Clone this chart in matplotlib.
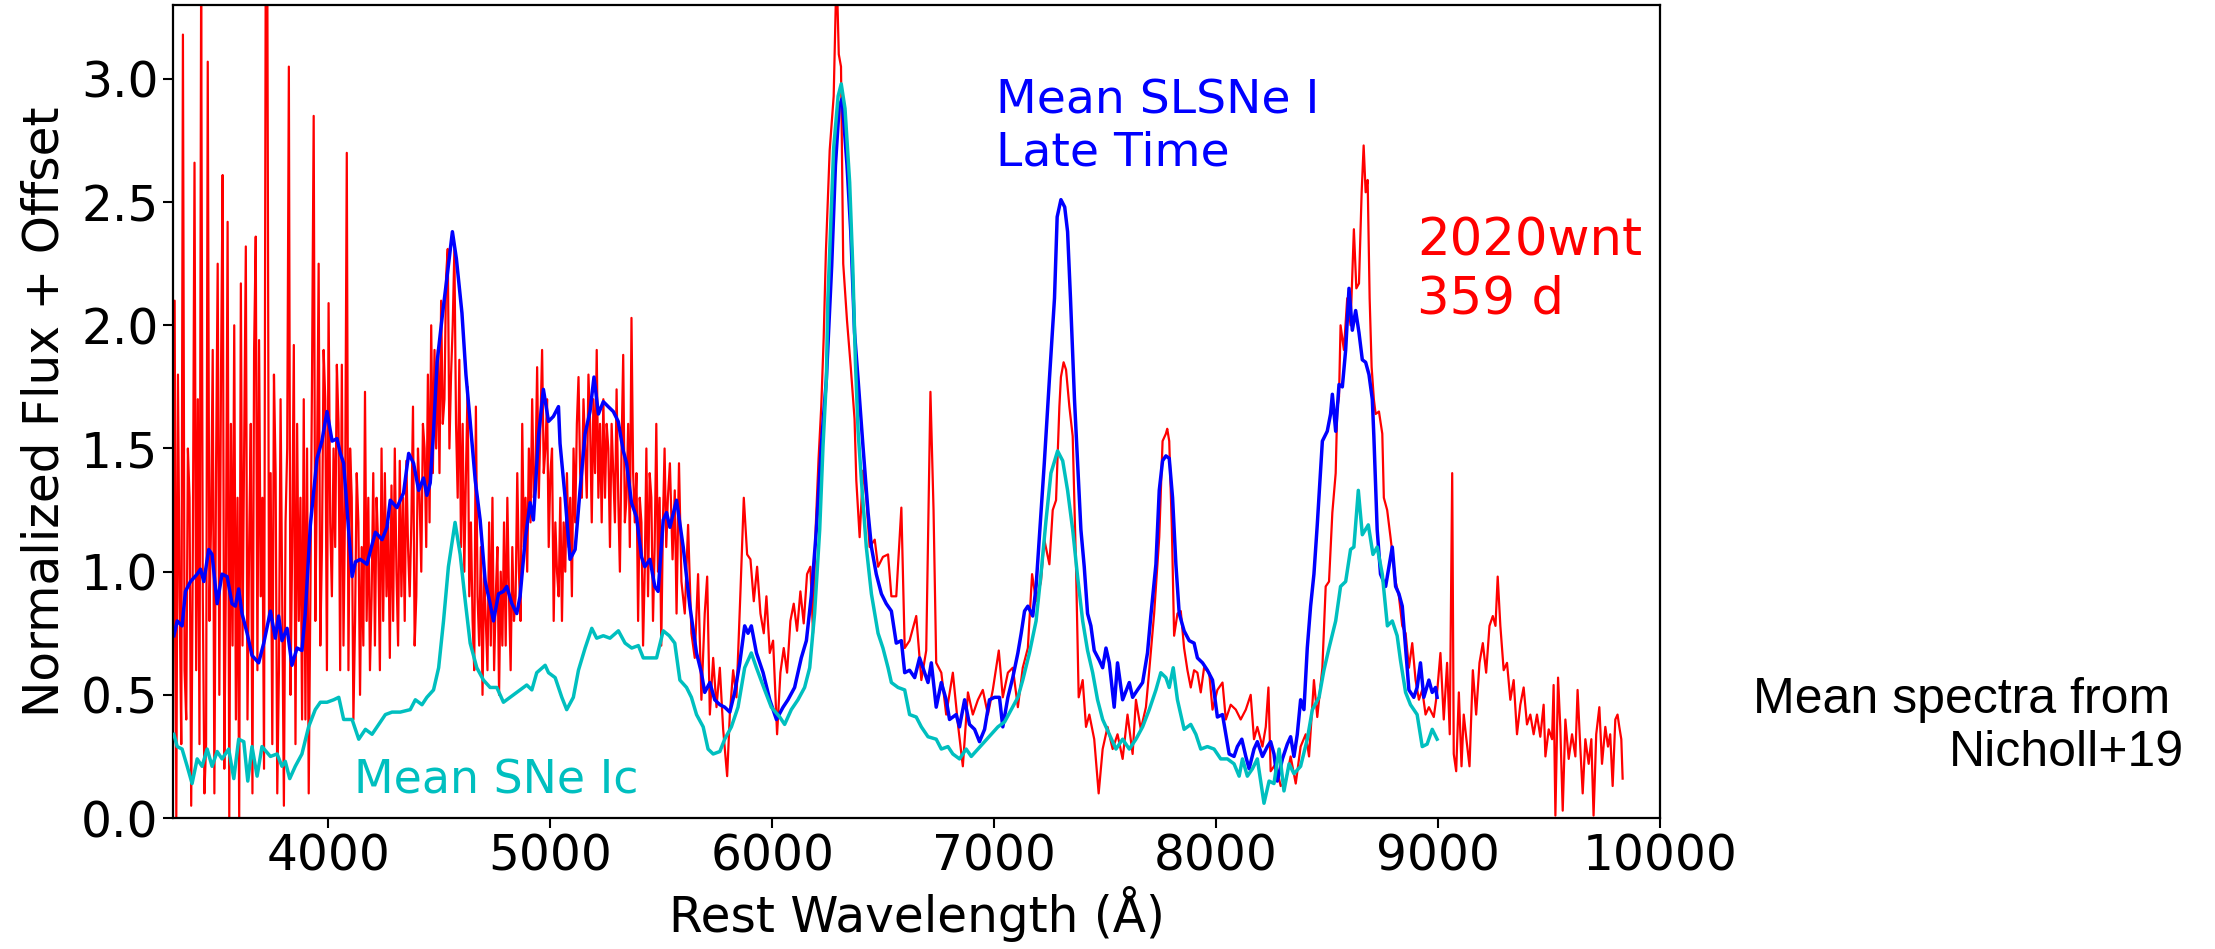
import numpy as np
import matplotlib
matplotlib.use("Agg")
import matplotlib.pyplot as plt

# Mean SNe Ic (Nicholl+19)
ic_wave = [3304, 3319, 3341, 3364, 3386, 3409, 3431, 3454, 3476, 3499, 3521, 3551, 3574, 3596,
           3619, 3637, 3656, 3679, 3701, 3739, 3769, 3791, 3806, 3826, 3851, 3881, 3911, 3941,
           3964, 3994, 4024, 4047, 4069, 4107, 4137, 4167, 4197, 4227, 4257, 4287, 4324, 4369,
           4392, 4422, 4444, 4474, 4497, 4519, 4541, 4571, 4594, 4617, 4639, 4669, 4699, 4729,
           4759, 4789, 4819, 4849, 4894, 4917, 4939, 4977, 4992, 5022, 5052, 5074, 5104, 5127,
           5157, 5187, 5209, 5239, 5269, 5307, 5337, 5367, 5397, 5419, 5449, 5479, 5509, 5536,
           5561, 5584, 5614, 5636, 5659, 5689, 5711, 5734, 5764, 5786, 5816, 5846, 5876, 5906,
           5929, 5966, 5996, 6034, 6056, 6086, 6116, 6146, 6169, 6191, 6214, 6229, 6244, 6251,
           6277, 6297, 6311, 6328, 6349, 6363, 6375, 6387, 6402, 6424, 6447, 6477, 6499, 6522,
           6537, 6567, 6597, 6619, 6649, 6672, 6702, 6739, 6762, 6792, 6814, 6844, 6874, 6897,
           6927, 6957, 6987, 7017, 7047, 7077, 7107, 7129, 7159, 7189, 7211, 7234, 7256, 7286,
           7309, 7331, 7354, 7376, 7399, 7421, 7444, 7466, 7489, 7519, 7549, 7579, 7609, 7639,
           7669, 7699, 7729, 7751, 7774, 7789, 7807, 7826, 7856, 7886, 7909, 7931, 7961, 7991,
           8021, 8051, 8081, 8104, 8119, 8141, 8164, 8186, 8216, 8239, 8261, 8284, 8306, 8329,
           8351, 8381, 8411, 8434, 8464, 8486, 8509, 8539, 8561, 8584, 8606, 8621, 8641, 8659,
           8686, 8707, 8726, 8749, 8772, 8794, 8816, 8831, 8854, 8876, 8906, 8929, 8951, 8974,
           8996]
ic_flux = [0.34, 0.29, 0.28, 0.21, 0.14, 0.24, 0.21, 0.28, 0.21, 0.27, 0.24, 0.28, 0.16, 0.32,
           0.31, 0.15, 0.29, 0.17, 0.29, 0.25, 0.26, 0.21, 0.23, 0.16, 0.21, 0.26, 0.37, 0.44,
           0.47, 0.47, 0.48, 0.49, 0.40, 0.40, 0.32, 0.36, 0.34, 0.38, 0.42, 0.43, 0.43, 0.44,
           0.48, 0.46, 0.49, 0.52, 0.61, 0.80, 1.02, 1.20, 1.07, 0.88, 0.71, 0.61, 0.56, 0.53,
           0.53, 0.47, 0.49, 0.51, 0.54, 0.52, 0.59, 0.62, 0.59, 0.57, 0.49, 0.44, 0.49, 0.60,
           0.69, 0.77, 0.73, 0.74, 0.73, 0.76, 0.71, 0.69, 0.70, 0.65, 0.65, 0.65, 0.76, 0.74,
           0.71, 0.56, 0.53, 0.49, 0.42, 0.37, 0.28, 0.26, 0.27, 0.32, 0.37, 0.45, 0.61, 0.67,
           0.61, 0.52, 0.45, 0.41, 0.38, 0.44, 0.48, 0.53, 0.61, 0.83, 1.17, 1.51, 1.78, 2.11,
           2.72, 2.93, 2.98, 2.88, 2.58, 2.24, 1.85, 1.57, 1.37, 1.10, 0.91, 0.75, 0.69, 0.61,
           0.55, 0.53, 0.52, 0.42, 0.41, 0.37, 0.33, 0.32, 0.28, 0.29, 0.26, 0.24, 0.28, 0.25,
           0.28, 0.31, 0.34, 0.37, 0.39, 0.44, 0.49, 0.56, 0.67, 0.80, 0.99, 1.21, 1.40, 1.49,
           1.45, 1.33, 1.17, 0.98, 0.80, 0.68, 0.59, 0.48, 0.40, 0.34, 0.28, 0.32, 0.28, 0.32,
           0.37, 0.44, 0.52, 0.59, 0.57, 0.53, 0.61, 0.48, 0.36, 0.38, 0.34, 0.28, 0.29, 0.28,
           0.24, 0.24, 0.22, 0.17, 0.24, 0.17, 0.20, 0.24, 0.06, 0.15, 0.14, 0.28, 0.11, 0.22,
           0.18, 0.21, 0.32, 0.44, 0.49, 0.60, 0.69, 0.80, 0.94, 0.96, 1.09, 1.10, 1.33, 1.15,
           1.19, 1.07, 1.10, 0.99, 0.78, 0.80, 0.74, 0.64, 0.51, 0.46, 0.42, 0.29, 0.30, 0.36,
           0.32]

# Mean SLSNe I, late time (Nicholl+19)
slsn_wave = [3304, 3319, 3341, 3356, 3379, 3409, 3424, 3439, 3461, 3476, 3499, 3521, 3544, 3566,
             3581, 3596, 3611, 3634, 3656, 3686, 3709, 3739, 3761, 3776, 3791, 3814, 3836, 3859,
             3881, 3896, 3919, 3949, 3971, 3994, 4017, 4039, 4054, 4069, 4084, 4107, 4122, 4144,
             4174, 4197, 4212, 4242, 4264, 4279, 4309, 4339, 4362, 4384, 4407, 4429, 4444, 4459,
             4474, 4490, 4515, 4534, 4559, 4577, 4602, 4620, 4639, 4662, 4684, 4707, 4729, 4744,
             4767, 4789, 4804, 4827, 4849, 4864, 4887, 4909, 4924, 4947, 4969, 4992, 5014, 5037,
             5044, 5067, 5089, 5112, 5134, 5157, 5179, 5197, 5217, 5239, 5261, 5284, 5306, 5329,
             5344, 5366, 5389, 5411, 5426, 5449, 5471, 5486, 5509, 5524, 5539, 5569, 5599, 5629,
             5659, 5681, 5696, 5719, 5741, 5764, 5786, 5809, 5831, 5854, 5876, 5891, 5906, 5929,
             5959, 5989, 6019, 6049, 6071, 6101, 6131, 6154, 6176, 6199, 6221, 6244, 6268, 6285,
             6302, 6315, 6337, 6354, 6371, 6387, 6409, 6432, 6447, 6469, 6492, 6514, 6537, 6559,
             6582, 6597, 6619, 6642, 6664, 6687, 6702, 6717, 6739, 6762, 6784, 6799, 6829, 6844,
             6867, 6889, 6912, 6934, 6957, 6979, 7002, 7024, 7039, 7062, 7084, 7107, 7122, 7137,
             7152, 7174, 7189, 7211, 7226, 7249, 7272, 7284, 7301, 7318, 7331, 7344, 7362, 7376,
             7391, 7406, 7421, 7436, 7451, 7474, 7489, 7504, 7519, 7541, 7556, 7579, 7609, 7624,
             7646, 7669, 7691, 7706, 7729, 7744, 7759, 7774, 7789, 7804, 7819, 7834, 7856, 7879,
             7901, 7916, 7939, 7961, 7984, 8006, 8029, 8044, 8059, 8081, 8096, 8116, 8134, 8149,
             8171, 8186, 8209, 8231, 8246, 8261, 8276, 8299, 8321, 8336, 8351, 8366, 8381, 8396,
             8411, 8426, 8441, 8456, 8479, 8501, 8516, 8524, 8539, 8554, 8569, 8584, 8599, 8614,
             8629, 8644, 8659, 8674, 8689, 8704, 8711, 8726, 8741, 8764, 8779, 8794, 8809, 8824,
             8839, 8854, 8869, 8891, 8906, 8921, 8936, 8959, 8974, 8989, 8996]
slsn_flux = [0.74, 0.80, 0.78, 0.92, 0.96, 0.99, 1.01, 0.96, 1.09, 1.07, 0.87, 0.99, 0.98, 0.87,
             0.86, 0.93, 0.83, 0.75, 0.66, 0.63, 0.71, 0.84, 0.73, 0.82, 0.72, 0.77, 0.62, 0.69,
             0.68, 0.83, 1.19, 1.46, 1.53, 1.65, 1.53, 1.54, 1.48, 1.44, 1.26, 0.98, 1.04, 1.05,
             1.03, 1.11, 1.16, 1.13, 1.18, 1.29, 1.26, 1.32, 1.48, 1.44, 1.33, 1.38, 1.31, 1.36,
             1.57, 1.85, 2.05, 2.19, 2.38, 2.27, 2.05, 1.80, 1.61, 1.37, 1.21, 0.96, 0.87, 0.80,
             0.91, 0.92, 0.94, 0.87, 0.83, 0.90, 1.13, 1.28, 1.21, 1.55, 1.74, 1.61, 1.63, 1.67,
             1.52, 1.30, 1.05, 1.09, 1.33, 1.56, 1.65, 1.79, 1.64, 1.69, 1.67, 1.65, 1.61, 1.49,
             1.44, 1.28, 1.22, 1.06, 1.02, 1.05, 0.94, 0.92, 1.21, 1.24, 1.18, 1.29, 1.10, 0.86,
             0.67, 0.59, 0.51, 0.55, 0.48, 0.46, 0.45, 0.43, 0.51, 0.63, 0.78, 0.75, 0.78, 0.67,
             0.59, 0.48, 0.40, 0.45, 0.48, 0.53, 0.65, 0.72, 0.90, 1.17, 1.51, 1.78, 2.24, 2.65,
             2.89, 2.92, 2.65, 2.38, 1.97, 1.78, 1.51, 1.24, 1.10, 0.99, 0.91, 0.87, 0.84, 0.71,
             0.72, 0.59, 0.60, 0.57, 0.65, 0.59, 0.55, 0.63, 0.45, 0.55, 0.48, 0.40, 0.42, 0.37,
             0.48, 0.38, 0.36, 0.31, 0.36, 0.48, 0.49, 0.49, 0.37, 0.49, 0.57, 0.67, 0.75, 0.84,
             0.86, 0.82, 0.94, 1.24, 1.44, 1.78, 2.11, 2.44, 2.51, 2.48, 2.38, 2.11, 1.70, 1.44,
             1.17, 1.02, 0.83, 0.78, 0.68, 0.64, 0.61, 0.69, 0.63, 0.45, 0.63, 0.48, 0.55, 0.49,
             0.52, 0.55, 0.67, 0.82, 1.03, 1.33, 1.45, 1.47, 1.46, 1.30, 1.03, 0.83, 0.76, 0.72,
             0.71, 0.65, 0.63, 0.60, 0.56, 0.41, 0.42, 0.34, 0.26, 0.25, 0.29, 0.32, 0.25, 0.20,
             0.28, 0.31, 0.25, 0.29, 0.31, 0.26, 0.15, 0.24, 0.30, 0.33, 0.25, 0.34, 0.48, 0.44,
             0.69, 0.86, 0.99, 1.19, 1.53, 1.57, 1.64, 1.72, 1.57, 1.76, 1.75, 1.90, 2.15, 1.98,
             2.06, 1.97, 1.86, 1.85, 1.80, 1.70, 1.55, 1.17, 0.99, 0.94, 1.02, 1.10, 0.94, 0.91,
             0.86, 0.69, 0.52, 0.49, 0.53, 0.63, 0.49, 0.56, 0.51, 0.53, 0.49]

# 2020wnt at 359 d: noisy blue end (3300-5530 A, evenly sampled, 20 values per 150 A)
wnt_blue_start, wnt_blue_end = 3300, 5530
wnt_blue_flux = [
    0.2, 2.1, 0.0, 1.8, 0.9, 0.3, 3.18, 0.6, 0.4, 1.5, 1.3, 0.05, 1.1, 2.66, 0.6, 1.7, 0.3, 3.4, 0.9, 0.1,
    0.3, 3.07, 0.8, 1.2, 1.9, 0.1, 1.4, 2.25, 0.5, 1.8, 2.61, 0.2, 1.0, 2.42, 0.0, 1.6, 0.7, 2.0, 0.4, 1.3,
    0.0, 2.17, 0.7, 1.5, 2.32, 0.4, 1.1, 1.6, 0.1, 1.9, 2.36, 0.6, 1.94, 0.9, 1.3, 0.2, 3.4, 3.4, 0.8, 1.4,
    0.3, 1.8, 1.4, 0.1, 0.6, 1.7, 0.9, 0.05, 1.2, 1.5, 3.05, 0.5, 1.1, 1.92, 0.3, 1.6, 0.8, 1.3, 0.4, 1.7,
    0.4, 1.5, 0.1, 0.9, 1.8, 2.85, 0.8, 1.4, 2.25, 0.7, 1.1, 1.9, 1.7, 0.6, 2.09, 1.2, 0.9, 1.5, 1.1, 1.84,
    1.6, 0.6, 1.84, 0.7, 1.3, 2.70, 0.6, 1.5, 1.3, 0.4, 0.8, 1.4, 1.2, 0.5, 1.1, 0.7, 1.73, 0.8, 1.3, 0.6,
    0.9, 1.4, 0.7, 1.3, 1.1, 0.6, 1.5, 0.8, 1.4, 0.9, 1.2, 0.65, 1.35, 0.8, 1.5, 1.0, 0.7, 1.45, 0.9, 1.3,
    0.8, 1.45, 1.1, 0.9, 1.2, 1.67, 0.7, 0.9, 1.5, 1.3, 1.0, 1.6, 1.5, 1.1, 1.8, 1.2, 2.0, 1.4, 1.9, 1.5,
    1.9, 1.4, 2.1, 1.6, 1.7, 2.2, 2.31, 1.5, 1.8, 2.0, 2.31, 1.6, 1.3, 1.86, 1.1, 1.6, 1.0, 1.4, 1.75, 0.9,
    1.2, 0.8, 0.6, 1.67, 0.9, 0.7, 1.1, 0.5, 1.0, 0.8, 0.6, 1.2, 0.7, 1.3, 0.6, 0.9, 1.1, 0.5, 1.0, 0.7,
    1.2, 0.7, 1.3, 0.9, 0.6, 1.1, 0.8, 0.9, 1.4, 1.0, 0.8, 1.6, 1.1, 1.3, 1.0, 1.5, 1.2, 1.7, 1.3, 1.4,
    1.83, 1.3, 1.6, 1.90, 1.4, 1.5, 1.7, 1.1, 1.4, 1.5, 0.8, 1.2, 1.0, 0.9, 1.3, 0.8, 1.2, 1.0, 1.4, 1.1,
    1.3, 0.9, 1.5, 1.2, 1.6, 1.79, 1.4, 1.3, 1.7, 1.5, 1.3, 1.8, 1.6, 1.2, 1.7, 1.4, 1.9, 1.3, 1.6, 1.2,
    1.7, 1.3, 1.6, 1.5, 1.1, 1.6, 1.4, 1.2, 1.74, 1.3, 1.0, 1.5, 1.88, 1.2, 1.3, 1.6, 1.1, 2.03, 1.4, 1.2,
    1.4, 0.8, 1.3, 1.2, 0.7, 1.0, 1.5, 0.9, 1.4, 1.3, 0.8, 1.1, 1.6, 1.0, 1.3, 0.7, 1.2, 1.5, 1.1, 1.3,
]

# 2020wnt red end, read point by point
wnt_red_wave = [5539, 5551, 5561, 5569, 5580, 5591, 5606, 5621, 5636, 5651, 5666, 5681, 5696, 5707,
                5719, 5734, 5749, 5764, 5779, 5797, 5809, 5824, 5839, 5857, 5872, 5887, 5902, 5917,
                5932, 5947, 5962, 5974, 5989, 6004, 6022, 6037, 6052, 6067, 6082, 6097, 6112, 6127,
                6142, 6157, 6172, 6184, 6196, 6209, 6221, 6232, 6242, 6259, 6277, 6290, 6300, 6310,
                6320, 6337, 6354, 6371, 6379, 6394, 6409, 6424, 6439, 6462, 6477, 6499, 6522, 6537,
                6559, 6582, 6597, 6619, 6649, 6672, 6694, 6713, 6727, 6739, 6762, 6784, 6814, 6837,
                6859, 6882, 6904, 6927, 6949, 6972, 6994, 7021, 7039, 7062, 7084, 7107, 7129, 7152,
                7171, 7189, 7211, 7226, 7249, 7264, 7279, 7294, 7301, 7313, 7324, 7339, 7354, 7369,
                7381, 7399, 7414, 7429, 7451, 7471, 7489, 7511, 7534, 7556, 7579, 7601, 7624, 7639,
                7661, 7684, 7699, 7721, 7744, 7759, 7774, 7780, 7789, 7801, 7811, 7826, 7841, 7856,
                7871, 7886, 7901, 7916, 7931, 7946, 7969, 7984, 8006, 8029, 8044, 8066, 8089, 8111,
                8134, 8156, 8171, 8186, 8209, 8224, 8236, 8246, 8269, 8291, 8314, 8336, 8359, 8381,
                8404, 8419, 8441, 8456, 8479, 8494, 8509, 8524, 8539, 8546, 8554, 8561, 8576, 8591,
                8606, 8621, 8632, 8644, 8656, 8665, 8674, 8683, 8692, 8701, 8711, 8719, 8734, 8749,
                8756, 8771, 8786, 8809, 8824, 8839, 8854, 8869, 8884, 8899, 8914, 8929, 8944, 8959,
                8981, 8996, 9011, 9026, 9041, 9053, 9064, 9071, 9082, 9094, 9106, 9116, 9128, 9142,
                9157, 9172, 9187, 9202, 9217, 9232, 9247, 9259, 9269, 9281, 9296, 9311, 9326, 9341,
                9356, 9371, 9386, 9401, 9416, 9431, 9446, 9461, 9476, 9484, 9499, 9514, 9521, 9529,
                9541, 9551, 9562, 9574, 9589, 9604, 9619, 9629, 9641, 9652, 9664, 9679, 9691, 9701,
                9713, 9727, 9739, 9754, 9766, 9776, 9787, 9799, 9809, 9817, 9826, 9832]
wnt_red_flux = [1.44, 1.05, 1.33, 0.83, 1.44, 0.96, 0.83, 1.19, 0.75, 0.65, 0.99, 0.48, 0.83, 0.98,
                0.42, 0.65, 0.45, 0.61, 0.36, 0.17, 0.42, 0.60, 0.49, 0.92, 1.30, 1.07, 1.05, 0.88,
                1.02, 0.83, 0.75, 0.90, 0.67, 0.72, 0.34, 0.59, 0.69, 0.59, 0.80, 0.87, 0.76, 0.92,
                0.79, 0.99, 1.02, 0.75, 1.18, 1.46, 1.67, 1.95, 2.30, 2.71, 2.93, 3.45, 3.10, 3.05,
                2.25, 2.02, 1.83, 1.62, 1.37, 1.14, 1.41, 1.30, 1.10, 1.13, 1.02, 1.06, 1.07, 0.90,
                0.90, 1.26, 0.69, 0.72, 0.82, 0.56, 0.68, 1.73, 1.25, 0.63, 0.59, 0.42, 0.59, 0.38,
                0.21, 0.51, 0.42, 0.48, 0.52, 0.42, 0.52, 0.68, 0.49, 0.59, 0.61, 0.45, 0.61, 0.69,
                0.99, 0.88, 0.96, 1.13, 1.03, 1.25, 1.29, 1.67, 1.79, 1.85, 1.82, 1.67, 1.55, 1.02,
                0.49, 0.56, 0.37, 0.42, 0.32, 0.10, 0.28, 0.37, 0.28, 0.34, 0.24, 0.42, 0.26, 0.48,
                0.36, 0.45, 0.60, 0.83, 1.14, 1.53, 1.56, 1.58, 1.53, 1.17, 0.74, 0.83, 0.84, 0.69,
                0.60, 0.53, 0.60, 0.59, 0.51, 0.61, 0.59, 0.44, 0.52, 0.55, 0.40, 0.46, 0.44, 0.40,
                0.44, 0.50, 0.32, 0.37, 0.29, 0.37, 0.53, 0.19, 0.22, 0.13, 0.15, 0.25, 0.14, 0.29,
                0.34, 0.25, 0.56, 0.41, 0.61, 0.94, 0.96, 1.24, 1.40, 1.66, 1.71, 2.00, 1.90, 2.11,
                2.00, 2.39, 2.15, 2.17, 2.54, 2.73, 2.54, 2.59, 2.11, 1.83, 1.70, 1.64, 1.65, 1.56,
                1.30, 1.25, 1.14, 0.96, 0.90, 0.78, 0.75, 0.61, 0.71, 0.56, 0.48, 0.52, 0.42, 0.45,
                0.41, 0.51, 0.67, 0.40, 0.63, 0.34, 1.40, 0.26, 0.19, 0.51, 0.21, 0.42, 0.32, 0.21,
                0.60, 0.42, 0.63, 0.71, 0.59, 0.78, 0.82, 0.78, 0.98, 0.78, 0.60, 0.63, 0.48, 0.56,
                0.34, 0.46, 0.53, 0.38, 0.42, 0.34, 0.42, 0.33, 0.46, 0.25, 0.36, 0.32, 0.54, 0.01,
                0.57, 0.37, 0.03, 0.40, 0.24, 0.34, 0.25, 0.52, 0.29, 0.10, 0.32, 0.22, 0.32, 0.01,
                0.34, 0.45, 0.22, 0.37, 0.29, 0.34, 0.13, 0.40, 0.42, 0.37, 0.32, 0.16]

wnt_wave = np.concatenate([np.linspace(wnt_blue_start, wnt_blue_end, len(wnt_blue_flux)), wnt_red_wave])
wnt_flux = np.concatenate([wnt_blue_flux, wnt_red_flux])

fig = plt.figure(figsize=(22.15, 9.49), dpi=100)
ax = fig.add_axes([0.0781, 0.1380, 0.6713, 0.8567])

ax.plot(wnt_wave, wnt_flux, color="r", lw=1.6, zorder=1)
ax.plot(slsn_wave, slsn_flux, color="b", lw=2.5, zorder=2)
ax.plot(ic_wave, ic_flux, color="c", lw=2.5, zorder=3)

ax.set_xlim(3300, 10000)
ax.set_ylim(0, 3.3)
ax.set_xticks([4000, 5000, 6000, 7000, 8000, 9000, 10000])
ax.set_yticks([0.0, 0.5, 1.0, 1.5, 2.0, 2.5, 3.0])
ax.tick_params(labelsize=35, length=7, width=1.5)
for s in ax.spines.values():
    s.set_linewidth(1.6)

ax.set_xlabel("Rest Wavelength (Å)", fontsize=35)
ax.set_ylabel("Normalized Flux + Offset", fontsize=35)
ax.yaxis.set_label_coords(-0.070, 0.5)

ax.text(7009, 3.0, "Mean SLSNe I\nLate Time", color="b", fontsize=34, va="top", ha="left")
ax.text(8906, 2.44, "2020wnt\n359 d", color="r", fontsize=37, va="top", ha="left")
ax.text(4114, 0.10, "Mean SNe Ic", color="c", fontsize=33, va="baseline", ha="left")

fig.text(0.986, 0.287, "Mean spectra from \nNicholl+19", fontsize=36, family="Liberation Sans",
         ha="right", va="top", multialignment="right")

fig.savefig("out.png", dpi=100)
